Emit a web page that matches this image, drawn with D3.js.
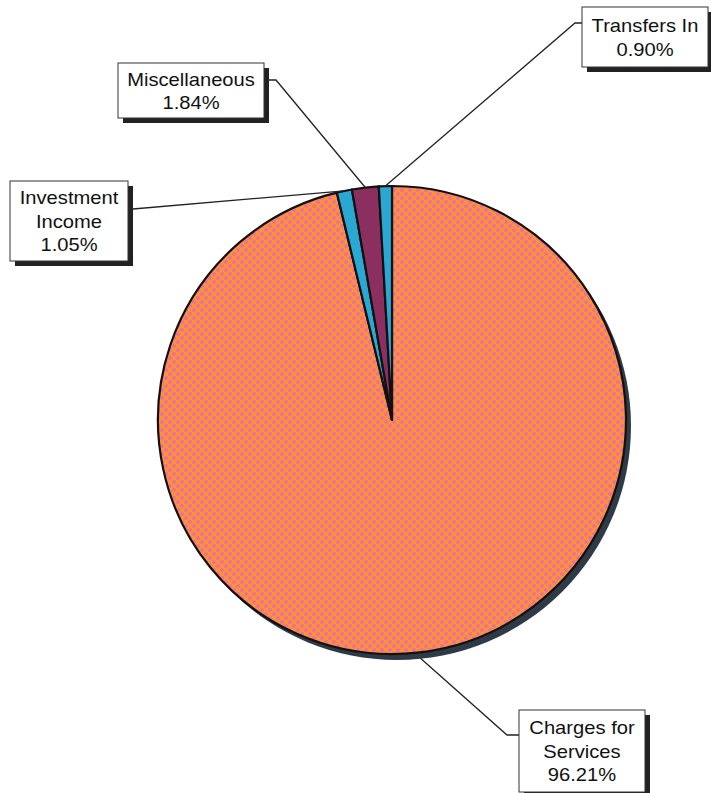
<!DOCTYPE html>
<html>
<head>
<meta charset="utf-8">
<script src="https://cdn.jsdelivr.net/npm/d3@7"></script>
<style>
  html, body { margin: 0; padding: 0; background: #ffffff; }
  svg { display: block; }
  text { font-family: "Liberation Sans", Arial, Helvetica, sans-serif; }
</style>
</head>
<body>
<svg id="chart" width="711" height="793"></svg>
<script>
// ---- data (in drawing order, clockwise from 12 o'clock) ----
const categories = ["Charges for Services", "Investment Income", "Miscellaneous", "Transfers In"];
const values = [96.21, 1.05, 1.84, 0.90];
const labelLines = [["Charges for", "Services"], ["Investment", "Income"], ["Miscellaneous"], ["Transfers In"]];
const percentLabels = ["96.21%", "1.05%", "1.84%", "0.90%"];

// ---- layout ----
const W = 711, H = 793;
const cx = 392, cy = 420, R = 234;
const fills = ["url(#orangeDots)", "#2aa7d3", "#8b2f60", "#2aa7d3"];
// label boxes: x, y, w, h
const boxes = [
  {x: 519, y: 710, w: 126, h: 82},
  {x: 10,  y: 181, w: 118, h: 80},
  {x: 118, y: 63,  w: 146, h: 55},
  {x: 582, y: 7,   w: 126, h: 60}
];
// leader start (outside box) and optional elbow, plus radial offset for end
const leaders = [
  {start: [519, 735], elbow: [507, 735], dr: 6},
  {start: [133, 209], elbow: null, dr: 0},
  {start: [269, 80], elbow: [276, 80], dr: 0},
  {start: [582, 23], elbow: [575, 23], dr: 0}
];

const svg = d3.select("#chart");
const defs = svg.append("defs");
const pat = defs.append("pattern")
  .attr("id", "orangeDots").attr("patternUnits", "userSpaceOnUse")
  .attr("width", 8).attr("height", 8);
pat.append("rect").attr("width", 8).attr("height", 8).attr("fill", "#f9933a");
pat.append("circle").attr("cx", 2).attr("cy", 2).attr("r", 2).attr("fill", "#f06c9c");
pat.append("circle").attr("cx", 6).attr("cy", 6).attr("r", 2).attr("fill", "#f06c9c");

const pie = d3.pie().sort(null).value(d => d).startAngle(0).endAngle(2 * Math.PI);
const arcs = pie(values);
const arc = d3.arc().innerRadius(0).outerRadius(R);

// pie shadow
svg.append("circle").attr("cx", cx + 5).attr("cy", cy + 6).attr("r", R)
  .attr("fill", "#2e3a45");

const g = svg.append("g").attr("transform", `translate(${cx},${cy})`);
g.selectAll("path.slice").data(arcs).join("path")
  .attr("class", "slice")
  .attr("d", arc)
  .attr("fill", (d, i) => fills[i])
  .attr("stroke", "#111")
  .attr("stroke-width", 2.2)
  .attr("stroke-linejoin", "round");

// leader lines
const line = d3.line();
arcs.forEach((d, i) => {
  const a = (d.startAngle + d.endAngle) / 2;
  const r = R + leaders[i].dr;
  const end = [cx + r * Math.sin(a), cy - r * Math.cos(a)];
  const pts = [leaders[i].start];
  if (leaders[i].elbow) pts.push(leaders[i].elbow);
  pts.push(end);
  svg.append("path").attr("d", line(pts))
    .attr("fill", "none").attr("stroke", "#222").attr("stroke-width", 1.3);
});

// label boxes
const fs = 18, lh = 23.5;
boxes.forEach((b, i) => {
  svg.append("rect").attr("x", b.x + 5).attr("y", b.y + 5)
    .attr("width", b.w).attr("height", b.h).attr("fill", "#222");
  svg.append("rect").attr("x", b.x).attr("y", b.y)
    .attr("width", b.w).attr("height", b.h)
    .attr("fill", "#fff").attr("stroke", "#333").attr("stroke-width", 1);
  const lines = labelLines[i].concat([percentLabels[i]]);
  const mx = b.x + b.w / 2, my = b.y + b.h / 2;
  const first = my - (lines.length - 1) * lh / 2 + 7;
  const tg = svg.append("g").attr("transform", `translate(${mx},0) scale(1.12,1)`);
  lines.forEach((t, k) => {
    tg.append("text").attr("x", 0).attr("y", first + k * lh)
      .attr("text-anchor", "middle").attr("font-size", fs)
      .attr("fill", "#111").text(t);
  });
});
</script>
</body>
</html>
